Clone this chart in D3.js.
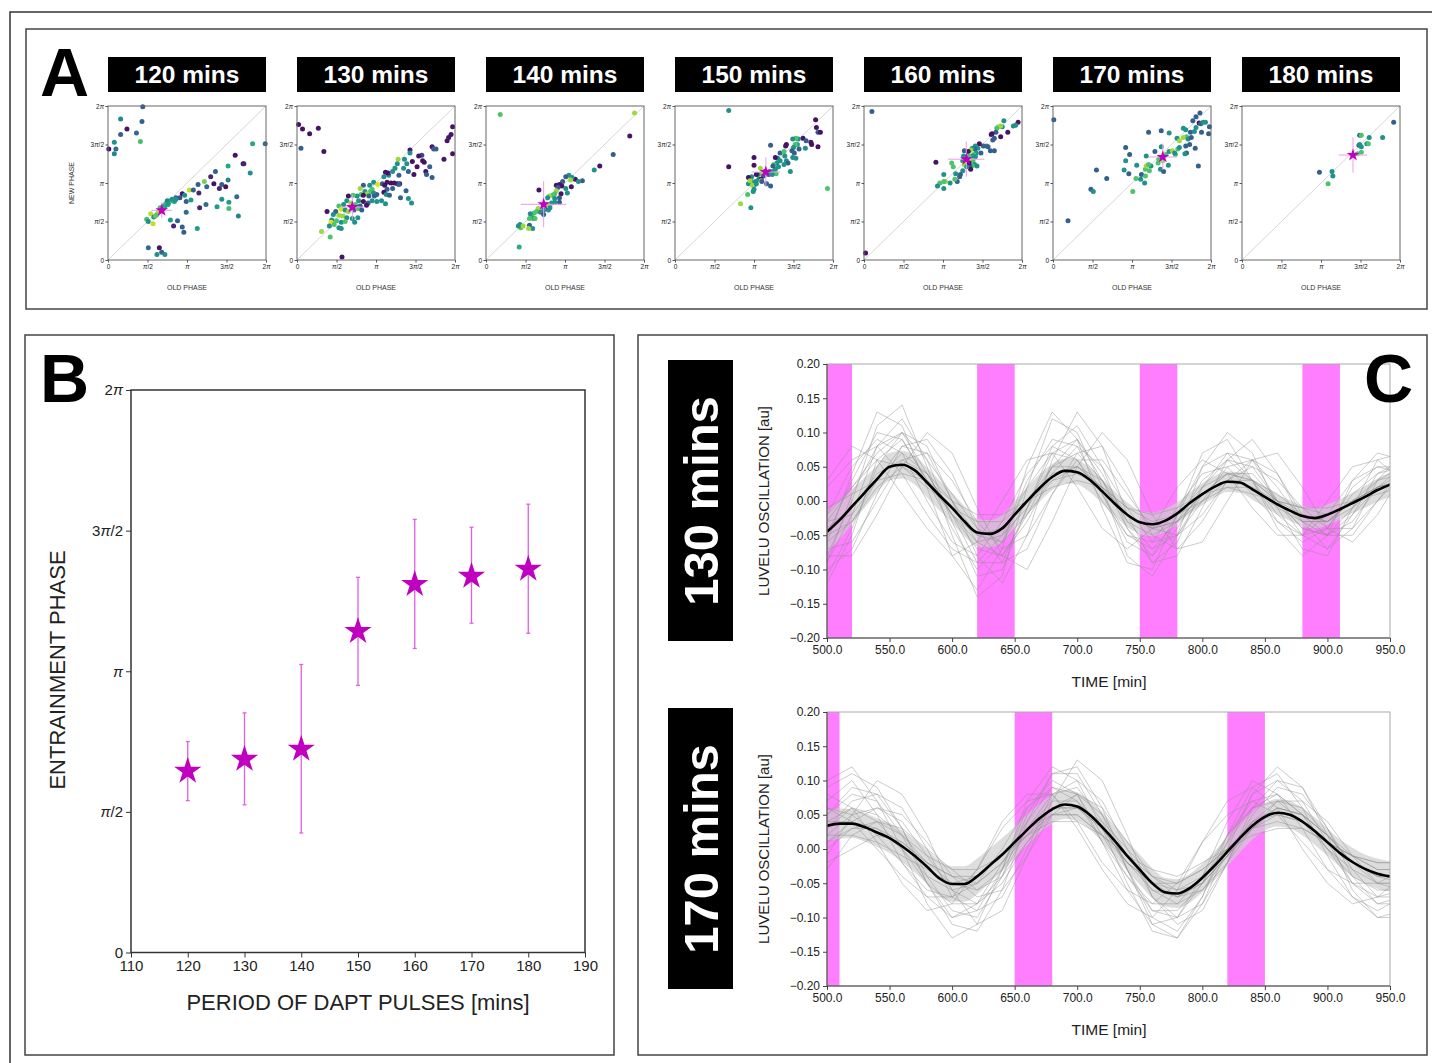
<!DOCTYPE html>
<html>
<head>
<meta charset="utf-8">
<script src="https://d3js.org/d3.v7.min.js"></script>
<style>
  body { margin: 0; background: #fff; }
  svg { font-family: "Liberation Sans", Arial, Helvetica, sans-serif; }
</style>
</head>
<body>
<div id="fig"></div>
<script>
// ---------------- data ----------------
var periods = [120, 130, 140, 150, 160, 170, 180];
var periodTitles = ["120 mins", "130 mins", "140 mins", "150 mins", "160 mins", "170 mins", "180 mins"];
var phaseTickValues = [0, 0.5, 1, 1.5, 2];          // units of pi
var phaseTickLabels = ["0", "π/2", "π", "3π/2", "2π"];
var periodTicks = [110, 120, 130, 140, 150, 160, 170, 180, 190];

// panel B: entrainment phase (units of pi) with error bar limits
var entrainMean = [0.645, 0.687, 0.723, 1.142, 1.309, 1.338, 1.363];
var entrainLow  = [0.54, 0.525, 0.425, 0.95, 1.081, 1.171, 1.135];
var entrainHigh = [0.75, 0.852, 1.024, 1.334, 1.54, 1.512, 1.594];
// panel A: mean old phase and its spread
var meanOldPhase = [0.68, 0.70, 0.73, 1.15, 1.295, 1.39, 1.405];
var oldPhaseErr  = [0.13, 0.15, 0.29, 0.18, 0.23, 0.18, 0.18];

// panel A scatter: [old phase, new phase, colour value]  (phases in units of pi)
var scatter120 = [
  [0.44,1.99,.3],[0.16,1.83,.45],[0.43,1.80,.3],[0.24,1.70,.05],[0.16,1.63,.3],[0.36,1.65,.35],[0.08,1.53,.5],
  [0.41,1.54,.7],[0.01,1.44,.05],[0.10,1.44,.35],[0.08,1.38,.45],[1.83,1.51,.6],[1.99,1.51,.35],[1.61,1.36,.05],
  [1.36,1.15,.3],[1.52,1.22,.6],[1.71,1.25,.05],[1.72,1.25,.1],[1.30,1.08,.1],[1.22,1.02,.8],[1.52,1.04,.45],
  [1.80,1.13,.5],[1.34,0.99,.05],[1.41,0.93,.1],[1.44,0.98,.3],[1.49,0.95,.05],[1.14,0.98,.3],[1.25,0.95,.35],
  [1.03,0.91,.9],[1.08,0.91,.3],[0.94,0.86,.05],[0.97,0.84,.5],[1.15,0.87,.1],[1.05,0.78,.55],[0.86,0.81,.3],
  [0.91,0.81,.25],[0.99,0.76,.3],[1.44,0.79,.5],[1.53,0.75,.55],[1.63,0.82,.35],[1.24,0.72,.35],[1.16,0.68,.1],
  [1.38,0.69,.55],[1.53,0.67,.7],[1.65,0.57,.45],[0.99,0.62,.35],[0.79,0.52,.55],[0.88,0.51,.3],[0.83,0.44,.1],
  [0.94,0.43,.3],[0.96,0.36,.3],[1.13,0.41,.55],
  [0.49,0.53,.7],[0.51,0.50,.5],[0.54,0.60,.9],[0.57,0.47,.9],[0.58,0.56,.5],[0.62,0.59,.7],[0.64,0.63,.85],
  [0.66,0.68,.7],[0.70,0.70,.5],[0.73,0.73,.7],[0.77,0.75,.5],[0.79,0.77,.7],[0.81,0.79,.5],[0.84,0.76,.55],
  [0.75,0.77,.45],[0.68,0.63,.75],[0.60,0.57,.75],[0.86,0.79,.5],[0.72,0.69,.6],[0.76,0.72,.55],
  [0.51,0.16,.35],[0.65,0.16,.05],[0.62,0.07,.5],[0.68,0.10,.3],[0.72,0.07,.5]
];
var scatter130 = [
  [0.02,1.76,.05],[0.07,1.70,.05],[0.16,1.64,.05],[0.27,1.71,.05],[0.05,1.45,.3],[0.34,1.41,.05],[1.97,1.73,.05],
  [1.95,1.63,.05],[1.92,1.59,.05],[1.90,1.55,.05],[1.97,1.38,.05],[1.86,1.31,.05],[1.71,1.47,.05],[1.73,1.44,.3],
  [1.76,1.44,.3],[1.58,1.36,.2],[1.54,1.35,.05],[1.43,1.43,.05],[1.43,1.39,.5],[1.28,1.31,.85],[1.36,1.31,.5],
  [1.46,1.28,.05],[1.39,1.25,.5],[1.27,1.25,.5],[1.59,1.29,.05],[1.52,1.21,.05],[1.61,1.27,.05],[1.68,1.21,.3],
  [1.63,1.15,.05],[1.35,1.19,.5],[1.41,1.15,.3],[1.48,1.11,.05],[1.64,1.11,.3],[1.71,1.07,.3],[1.24,1.19,.5],
  [1.21,1.15,.5],[1.16,1.10,.5],[1.12,1.14,.05],[1.15,1.13,.05],[1.10,1.08,.5],[1.29,1.10,.3],[1.14,1.01,.05],
  [1.19,1.00,.05],[1.23,1.00,.05],[1.27,0.99,.05],[1.30,0.99,.05],[1.08,0.99,.3],[1.11,0.97,.05],[1.14,0.92,.3],
  [1.21,0.93,.3],[1.29,0.98,.3],[1.38,0.90,.3],[1.10,0.88,.05],[1.13,0.85,.5],[1.17,0.84,.3],[1.31,0.81,.3],
  [1.41,0.80,.5],[1.45,0.74,.5],[1.12,0.73,.5],[1.07,0.77,.5],[1.01,0.85,.3],[0.97,1.01,.5],[1.02,0.98,.95],
  [0.92,0.97,.5],[0.95,0.92,.72],[0.84,0.97,.3],[0.80,0.93,.85],[0.86,0.89,.5],[0.93,0.89,.72],[0.97,0.87,.5],
  [0.89,0.86,.85],[0.81,0.85,.72],[0.84,0.84,.05],[0.91,0.83,.3],[0.98,0.83,.3],[0.76,0.83,.5],[0.71,0.84,.72],
  [0.65,0.83,.05],[0.78,0.77,.5],[0.84,0.76,.05],[0.90,0.74,.3],[0.95,0.77,.5],[1.01,0.76,.5],[0.63,0.77,.5],
  [0.68,0.74,.85],[0.74,0.72,.72],[0.80,0.70,.3],[0.88,0.71,.05],[0.59,0.72,.5],[0.53,0.70,.72],[0.56,0.66,.95],
  [0.61,0.65,.5],[0.65,0.63,.85],[0.72,0.65,.5],[0.77,0.67,.72],[0.82,0.65,.3],[0.49,0.63,.3],[0.38,0.63,.05],
  [0.46,0.59,.5],[0.53,0.58,.85],[0.58,0.57,.85],[0.63,0.55,.5],[0.70,0.54,.5],[0.77,0.55,.5],[0.44,0.52,.5],
  [0.50,0.51,.72],[0.56,0.49,.5],[0.61,0.50,.72],[0.43,0.49,.95],[0.47,0.46,.72],[0.41,0.44,.5],[0.53,0.42,.5],
  [0.56,0.41,.5],[0.73,0.49,.5],[0.31,0.37,.85],[0.42,0.30,.72],[0.57,0.04,.05]
];
var scatter140 = [
  [0.18,1.89,.72],[1.88,1.91,.85],[1.82,1.61,.05],[1.61,1.37,.3],[1.44,1.22,.05],[1.37,1.17,.5],[1.22,1.03,.3],
  [1.13,1.05,.05],[1.09,1.07,.5],[1.05,1.10,.5],[1.01,1.08,.3],[1.07,1.04,.85],[1.17,1.02,.5],[0.97,1.02,.3],
  [0.93,0.98,.05],[0.89,0.97,.05],[0.96,0.96,.05],[0.91,0.94,.3],[1.01,0.93,.5],[1.08,0.95,.05],[1.03,0.87,.5],
  [0.67,0.91,.05],[0.95,0.86,.05],[0.89,0.90,.85],[0.87,0.86,.72],[0.84,0.84,.72],[0.80,0.83,.85],[0.78,0.81,.5],
  [0.87,0.80,.5],[0.93,0.81,.3],[0.93,0.75,.3],[0.87,0.75,.5],[0.83,0.74,.5],[0.78,0.72,.85],[0.81,0.68,.5],
  [0.73,0.65,.5],[0.79,0.65,.5],[0.66,0.67,.85],[0.64,0.63,.72],[0.69,0.62,.5],[0.73,0.59,.3],[0.61,0.61,.72],
  [0.58,0.58,.72],[0.56,0.60,.5],[0.60,0.54,.5],[0.62,0.54,.72],[0.55,0.54,.72],[0.43,0.46,.5],[0.44,0.42,.72],
  [0.41,0.44,.5],[0.47,0.44,.85],[0.55,0.45,.3],[0.59,0.41,.5],[0.54,0.41,.85],[0.42,0.17,.62]
];
var scatter150 = [
  [0.68,1.94,.5],[0.68,1.21,.05],[1.93,0.93,.72],[1.78,1.82,.05],[1.79,1.72,.05],[1.81,1.66,.3],[1.84,1.66,.05],
  [1.81,1.47,.05],[1.62,1.58,.05],[1.72,1.53,.05],[1.73,1.50,.05],[1.66,1.55,.3],[1.65,1.45,.5],[1.56,1.57,.5],
  [1.53,1.58,.72],[1.49,1.57,.5],[1.55,1.50,.62],[1.52,1.50,.72],[1.50,1.46,.5],[1.57,1.44,.3],[1.48,1.42,.3],
  [1.51,1.39,.3],[1.53,1.32,.5],[1.49,1.33,.5],[1.41,1.50,.05],[1.40,1.48,.05],[1.21,1.49,.3],[1.33,1.39,.3],
  [1.38,1.41,.72],[1.30,1.32,.5],[1.27,1.33,.05],[1.39,1.35,.5],[1.41,1.29,.5],[1.43,1.26,.3],[1.46,1.15,.5],
  [1.38,1.24,.5],[1.33,1.29,.5],[1.29,1.26,.5],[1.25,1.24,.72],[1.31,1.21,.5],[1.27,1.18,.5],[1.24,1.22,.3],
  [1.20,1.15,.3],[1.24,1.15,.5],[1.28,1.12,.72],[1.23,1.11,.5],[1.18,1.11,.5],[1.14,1.15,.05],[1.08,1.19,.85],
  [1.09,1.12,.85],[1.12,1.09,.3],[1.05,1.11,.5],[1.03,1.11,.05],[1.00,1.33,.05],[1.00,1.23,.05],[1.06,1.05,.5],
  [1.09,1.05,.05],[0.97,1.08,.5],[0.93,1.07,.05],[0.97,1.02,.5],[1.02,1.02,.5],[0.93,0.99,.5],[0.95,1.03,.85],
  [1.09,1.03,.85],[1.01,0.98,.5],[0.98,0.97,.85],[1.03,0.99,.5],[1.10,1.02,.3],[1.16,0.99,.3],[1.21,0.96,.3],
  [1.00,0.92,.5],[0.99,0.89,.5],[0.92,0.85,.72],[0.83,0.73,.85],[0.96,0.68,.5]
];
var scatter160 = [
  [0.10,1.93,.3],[0.02,0.09,.05],[0.91,1.27,.05],[1.95,1.79,.05],[1.92,1.75,.5],[1.89,1.74,.5],[1.77,1.81,.5],
  [1.82,1.66,.05],[1.75,1.73,.5],[1.73,1.74,.85],[1.70,1.73,.85],[1.68,1.71,.72],[1.73,1.60,.05],[1.67,1.66,.3],
  [1.62,1.64,.05],[1.61,1.63,.05],[1.65,1.58,.3],[1.63,1.56,.3],[1.55,1.48,.5],[1.57,1.47,.3],[1.65,1.42,.3],
  [1.60,1.42,.3],[1.51,1.48,.3],[1.46,1.51,.05],[1.44,1.45,.5],[1.41,1.48,.5],[1.40,1.44,.3],[1.48,1.39,.3],
  [1.42,1.39,.5],[1.37,1.45,.5],[1.39,1.37,.72],[1.37,1.35,.5],[1.41,1.34,.5],[1.35,1.43,.85],[1.32,1.41,.05],
  [1.27,1.42,.3],[1.33,1.35,.72],[1.26,1.35,.5],[1.29,1.31,.72],[1.25,1.29,.5],[1.27,1.24,.85],[1.32,1.29,.85],
  [1.38,1.29,.72],[1.40,1.24,.5],[1.43,1.22,.5],[1.37,1.22,.72],[1.34,1.22,.3],[1.33,1.26,.05],[1.35,1.18,.05],
  [1.30,1.21,.5],[1.11,1.26,.72],[1.13,1.21,.72],[1.16,1.12,.5],[1.25,1.16,.5],[1.22,1.11,.3],[1.21,1.08,.3],
  [1.18,1.02,.3],[1.09,1.00,.5],[1.01,1.11,.5],[1.03,1.02,.85],[1.01,1.02,.72],[0.96,1.00,.72],[0.93,0.96,.5],
  [1.01,0.93,.5],[1.15,1.05,.72]
];
var scatter170 = [
  [0.01,1.82,.3],[0.19,0.51,.3],[0.48,0.92,.3],[0.51,0.89,.5],[0.55,1.17,.3],[0.68,1.06,.3],[1.01,0.89,.72],
  [0.92,1.46,.3],[0.97,1.37,.3],[0.92,1.29,.5],[0.96,1.12,.3],[0.90,1.17,.5],[1.05,1.06,.72],[1.11,1.05,.5],
  [1.12,1.11,.3],[1.06,1.23,.5],[1.16,1.00,.5],[1.17,1.09,.72],[1.17,1.18,.72],[1.18,1.22,.85],[1.22,1.16,.72],
  [1.24,1.22,.5],[1.21,1.24,.72],[1.18,1.35,.5],[1.29,1.41,.3],[1.21,1.66,.3],[1.37,1.68,.3],[1.47,1.65,.5],
  [1.37,1.47,.5],[1.34,1.31,.72],[1.33,1.26,.72],[1.36,1.18,.5],[1.40,1.15,.3],[1.46,1.23,.5],[1.39,1.29,.85],
  [1.43,1.37,.72],[1.47,1.41,.5],[1.51,1.42,.85],[1.55,1.37,.72],[1.54,1.39,.5],[1.58,1.44,.72],[1.60,1.46,.5],
  [1.57,1.58,.5],[1.60,1.55,.85],[1.65,1.71,.5],[1.68,1.69,.5],[1.69,1.60,.72],[1.65,1.59,.85],[1.71,1.57,.5],
  [1.75,1.59,.3],[1.74,1.66,.3],[1.77,1.81,.3],[1.81,1.86,.3],[1.86,1.91,.3],[1.85,1.78,.05],[1.87,1.77,.3],
  [1.90,1.79,.5],[1.93,1.79,.5],[1.98,1.73,.3],[1.97,1.64,.3],[1.88,1.66,.3],[1.81,1.72,.5],[1.79,1.67,.5],
  [1.68,1.48,.3],[1.69,1.39,.3],[1.67,1.38,.5],[1.80,1.45,.3],[1.84,1.22,.3],[1.73,1.50,.3]
];
var scatter180 = [
  [0.98,1.14,.3],[1.14,1.15,.5],[1.15,1.09,.5],[1.09,0.99,.72],[1.92,1.79,.3],[1.78,1.59,.5],[1.61,1.59,.5],
  [1.49,1.62,.3],[1.51,1.62,.72],[1.48,1.49,.3],[1.49,1.50,.5],[1.51,1.47,.5],[1.58,1.51,.5],[1.60,1.51,.72],
  [1.51,1.40,.72],[1.46,1.38,.72]
];

// panel C
var timeTicks = [500, 550, 600, 650, 700, 750, 800, 850, 900, 950];
var oscTicks = [0.20, 0.15, 0.10, 0.05, 0.00, -0.05, -0.10, -0.15, -0.20];
var meanTimes = [500,510,520,530,540,550,560,570,580,590,600,610,620,630,640,650,660,670,680,690,700,710,720,
  730,740,750,760,770,780,790,800,810,820,830,840,850,860,870,880,890,900,910,920,930,940,950];
var mean130 = [-0.045,-0.028,-0.008,0.012,0.032,0.05,0.053,0.045,0.027,0.008,-0.01,-0.03,-0.046,-0.048,-0.04,
  -0.02,0.0,0.019,0.035,0.044,0.042,0.031,0.014,-0.004,-0.02,-0.031,-0.034,-0.029,-0.018,-0.003,0.01,0.021,
  0.028,0.027,0.017,0.006,-0.005,-0.014,-0.022,-0.025,-0.02,-0.012,-0.003,0.006,0.016,0.024];
var sd130 = [0.03,0.028,0.025,0.022,0.02,0.02,0.02,0.021,0.022,0.022,0.022,0.022,0.02,0.02,0.02,0.02,0.02,0.02,
  0.019,0.018,0.018,0.018,0.018,0.018,0.018,0.017,0.017,0.017,0.016,0.016,0.016,0.016,0.015,0.015,0.015,0.015,
  0.015,0.015,0.015,0.015,0.015,0.015,0.015,0.016,0.017,0.018];
var mean170 = [0.034,0.037,0.037,0.032,0.024,0.016,0.004,-0.01,-0.026,-0.043,-0.051,-0.051,-0.04,-0.024,-0.008,
  0.01,0.028,0.045,0.058,0.065,0.062,0.05,0.032,0.012,-0.01,-0.03,-0.05,-0.063,-0.065,-0.057,-0.042,-0.024,
  -0.004,0.016,0.034,0.047,0.053,0.05,0.04,0.026,0.01,-0.006,-0.019,-0.029,-0.036,-0.04];
var sd170 = [0.022,0.022,0.021,0.021,0.021,0.022,0.023,0.024,0.025,0.026,0.026,0.026,0.026,0.025,0.024,0.023,
  0.022,0.021,0.021,0.021,0.021,0.021,0.022,0.022,0.022,0.022,0.022,0.021,0.021,0.021,0.021,0.021,0.021,0.021,
  0.02,0.02,0.02,0.02,0.02,0.02,0.02,0.02,0.021,0.021,0.022,0.022];

var traceTimes = [500,520,540,560,580,600,620,640,660,680,700,720,740,760,780,800,820,840,860,880,900,920,940,960];
var traces130 = [
  [-0.09,-0.02,0.08,0.12,0.06,-0.03,-0.11,-0.10,-0.01,0.08,0.11,0.05,-0.04,-0.09,-0.06,0.02,0.07,0.06,0.0,-0.05,-0.07,-0.02,0.04,0.06],
  [-0.02,0.05,0.09,0.07,0.0,-0.06,-0.08,-0.03,0.04,0.08,0.06,0.0,-0.05,-0.06,-0.01,0.04,0.05,0.01,-0.03,-0.05,-0.02,0.03,0.05,0.04],
  [-0.07,-0.06,0.0,0.06,0.07,0.03,-0.03,-0.07,-0.05,0.01,0.06,0.06,0.01,-0.04,-0.05,-0.02,0.03,0.05,0.03,-0.01,-0.04,-0.04,0.0,0.04],
  [-0.03,0.02,0.06,0.05,0.02,-0.01,-0.03,-0.03,0.0,0.03,0.04,0.02,-0.01,-0.03,-0.02,0.0,0.02,0.02,0.0,-0.01,-0.02,0.0,0.02,0.03],
  [-0.11,-0.04,0.05,0.10,0.08,0.0,-0.08,-0.12,-0.05,0.06,0.13,0.08,-0.02,-0.09,-0.08,-0.01,0.06,0.09,0.04,-0.03,-0.07,-0.04,0.03,0.07],
  [0.02,0.06,0.08,0.04,-0.02,-0.07,-0.09,-0.05,0.02,0.07,0.06,0.01,-0.05,-0.07,-0.03,0.03,0.06,0.03,-0.02,-0.05,-0.04,0.01,0.04,0.05],
  [-0.06,-0.03,0.03,0.07,0.04,0.0,-0.05,-0.06,-0.02,0.03,0.05,0.03,-0.02,-0.04,-0.03,0.01,0.03,0.02,-0.01,-0.03,-0.03,0.0,0.02,0.03],
  [-0.08,0.0,0.11,0.14,0.05,-0.05,-0.14,-0.11,0.02,0.12,0.10,0.02,-0.08,-0.11,-0.05,0.05,0.10,0.07,-0.01,-0.07,-0.08,-0.01,0.06,0.07],
  [-0.01,0.01,0.03,0.04,0.03,0.0,-0.02,-0.02,0.0,0.02,0.03,0.02,-0.01,-0.02,-0.01,0.01,0.02,0.01,0.0,-0.01,-0.01,0.0,0.01,0.02],
  [-0.10,-0.07,0.01,0.08,0.09,0.04,-0.04,-0.09,-0.07,0.01,0.07,0.08,0.02,-0.05,-0.07,-0.03,0.03,0.06,0.04,-0.02,-0.05,-0.05,0.0,0.05],
  [-0.05,0.03,0.10,0.09,0.03,-0.04,-0.10,-0.06,0.03,0.09,0.08,0.01,-0.06,-0.08,-0.02,0.05,0.07,0.03,-0.03,-0.06,-0.04,0.02,0.05,0.05],
  [-0.04,-0.01,0.04,0.06,0.04,-0.02,-0.06,-0.05,-0.01,0.05,0.07,0.03,-0.03,-0.05,-0.03,0.01,0.04,0.03,0.0,-0.03,-0.03,0.0,0.03,0.04],
  [-0.12,-0.05,0.06,0.09,0.03,-0.02,-0.07,-0.08,-0.02,0.05,0.09,0.04,-0.03,-0.07,-0.05,0.01,0.04,0.04,0.0,-0.04,-0.05,-0.02,0.02,0.04],
  [-0.02,0.02,0.07,0.10,0.06,0.01,-0.04,-0.06,0.0,0.05,0.05,0.02,-0.02,-0.04,-0.02,0.02,0.04,0.03,0.0,-0.02,-0.03,0.0,0.02,0.03],
  [-0.06,0.04,0.13,0.11,0.02,-0.08,-0.13,-0.07,0.05,0.13,0.09,-0.01,-0.09,-0.10,-0.02,0.07,0.09,0.03,-0.04,-0.08,-0.05,0.03,0.07,0.06],
  [-0.08,-0.08,-0.02,0.05,0.10,0.07,-0.01,-0.08,-0.10,-0.03,0.05,0.10,0.06,-0.02,-0.07,-0.06,0.0,0.06,0.07,0.02,-0.04,-0.06,-0.02,0.04],
  [0.03,0.08,0.06,0.01,-0.04,-0.08,-0.06,0.0,0.06,0.07,0.02,-0.04,-0.07,-0.04,0.02,0.06,0.04,-0.01,-0.05,-0.05,0.0,0.05,0.06,0.03],
  [-0.05,-0.03,0.02,0.05,0.03,-0.02,-0.05,-0.04,0.0,0.04,0.05,0.02,-0.02,-0.04,-0.03,0.0,0.03,0.03,0.01,-0.02,-0.03,-0.01,0.02,0.03],
  [-0.09,0.01,0.08,0.10,0.04,-0.02,-0.09,-0.09,-0.01,0.07,0.09,0.03,-0.04,-0.08,-0.04,0.02,0.06,0.05,0.0,-0.04,-0.05,-0.01,0.03,0.05],
  [-0.03,-0.02,0.03,0.08,0.07,0.0,-0.06,-0.08,-0.03,0.04,0.08,0.05,-0.01,-0.06,-0.05,0.0,0.05,0.06,0.02,-0.03,-0.05,-0.03,0.02,0.05]
];
var traces170 = [
  [0.05,0.09,0.08,0.03,-0.04,-0.09,-0.10,-0.04,0.05,0.11,0.11,0.05,-0.03,-0.10,-0.12,-0.07,0.01,0.08,0.10,0.07,0.01,-0.05,-0.08,-0.08],
  [0.0,0.03,0.04,0.02,-0.01,-0.03,-0.03,-0.01,0.02,0.04,0.04,0.02,-0.01,-0.03,-0.04,-0.02,0.0,0.02,0.03,0.03,0.01,-0.01,-0.02,-0.02],
  [0.08,0.06,0.01,-0.05,-0.09,-0.08,-0.03,0.04,0.08,0.08,0.03,-0.03,-0.08,-0.10,-0.06,0.01,0.07,0.09,0.06,0.0,-0.05,-0.08,-0.07,-0.04],
  [0.01,0.04,0.06,0.05,0.01,-0.04,-0.07,-0.06,-0.01,0.05,0.08,0.06,0.01,-0.04,-0.07,-0.06,-0.02,0.03,0.07,0.07,0.04,-0.01,-0.05,-0.06],
  [0.10,0.12,0.07,0.0,-0.08,-0.13,-0.11,-0.03,0.07,0.12,0.10,0.03,-0.05,-0.12,-0.13,-0.07,0.02,0.09,0.11,0.06,-0.01,-0.07,-0.10,-0.09],
  [0.02,0.02,0.01,-0.01,-0.03,-0.05,-0.04,-0.01,0.03,0.05,0.05,0.02,-0.01,-0.04,-0.05,-0.03,0.0,0.03,0.04,0.03,0.01,-0.01,-0.03,-0.03],
  [0.06,0.05,0.02,-0.02,-0.06,-0.07,-0.05,0.0,0.06,0.09,0.07,0.01,-0.04,-0.08,-0.08,-0.04,0.02,0.06,0.07,0.04,0.0,-0.03,-0.05,-0.05],
  [-0.01,0.05,0.10,0.08,0.02,-0.06,-0.11,-0.09,-0.01,0.07,0.13,0.10,0.02,-0.07,-0.11,-0.09,-0.02,0.06,0.10,0.09,0.03,-0.04,-0.08,-0.07],
  [0.04,0.04,0.03,0.0,-0.04,-0.06,-0.05,-0.02,0.03,0.06,0.06,0.03,-0.02,-0.05,-0.06,-0.04,0.0,0.04,0.05,0.04,0.01,-0.02,-0.04,-0.04],
  [0.07,0.10,0.05,-0.02,-0.07,-0.10,-0.08,-0.02,0.04,0.09,0.08,0.02,-0.04,-0.09,-0.10,-0.05,0.02,0.07,0.08,0.05,0.0,-0.05,-0.07,-0.06],
  [0.03,0.06,0.05,0.02,-0.02,-0.05,-0.06,-0.03,0.03,0.07,0.07,0.03,-0.02,-0.06,-0.07,-0.05,-0.01,0.04,0.06,0.05,0.02,-0.02,-0.04,-0.05],
  [-0.02,0.0,0.02,0.01,-0.02,-0.04,-0.04,-0.01,0.02,0.05,0.05,0.02,-0.02,-0.05,-0.05,-0.03,0.0,0.03,0.05,0.04,0.01,-0.01,-0.02,-0.02],
  [0.05,0.08,0.07,0.02,-0.05,-0.10,-0.09,-0.03,0.06,0.10,0.08,0.01,-0.06,-0.11,-0.10,-0.04,0.04,0.10,0.08,0.03,-0.03,-0.07,-0.09,-0.07],
  [0.01,0.03,0.03,0.01,-0.02,-0.04,-0.05,-0.02,0.02,0.06,0.06,0.03,-0.02,-0.05,-0.07,-0.05,-0.01,0.03,0.06,0.05,0.02,-0.02,-0.04,-0.04],
  [0.09,0.11,0.09,0.03,-0.05,-0.11,-0.12,-0.06,0.04,0.11,0.12,0.06,-0.03,-0.11,-0.13,-0.08,0.0,0.08,0.12,0.09,0.02,-0.06,-0.10,-0.10],
  [0.03,0.07,0.08,0.06,0.0,-0.07,-0.09,-0.07,0.0,0.08,0.10,0.07,0.0,-0.07,-0.10,-0.08,-0.02,0.05,0.09,0.08,0.03,-0.03,-0.07,-0.07],
  [0.06,0.04,0.0,-0.04,-0.07,-0.07,-0.03,0.03,0.07,0.08,0.04,-0.02,-0.06,-0.08,-0.05,0.01,0.05,0.07,0.05,0.01,-0.03,-0.05,-0.05,-0.03],
  [-0.03,0.02,0.04,0.03,0.0,-0.03,-0.06,-0.04,0.01,0.05,0.06,0.04,0.0,-0.04,-0.06,-0.05,-0.01,0.03,0.06,0.05,0.02,-0.01,-0.03,-0.03],
  [0.04,0.06,0.04,0.0,-0.05,-0.08,-0.08,-0.04,0.03,0.08,0.09,0.04,-0.03,-0.09,-0.09,-0.05,0.01,0.06,0.08,0.05,0.0,-0.04,-0.06,-0.06],
  [0.02,0.05,0.06,0.04,-0.01,-0.06,-0.08,-0.05,0.01,0.06,0.08,0.05,-0.01,-0.06,-0.08,-0.06,-0.01,0.04,0.07,0.06,0.02,-0.02,-0.05,-0.05]
];
var pulses130 = [[490, 520], [620, 650], [750, 780], [880, 910]];
var pulses170 = [[480, 510], [650, 680], [820, 850]];

// ---------------- drawing ----------------
var svg = d3.select("#fig").append("svg")
  .attr("width", 1432).attr("height", 1063);

// turn every "π" in a label into an italic tspan
function piLabel(sel) {
  sel.each(function() {
    var t = d3.select(this), s = t.text();
    t.text(null);
    s.split(/(π)/).forEach(function(part) {
      if (!part) return;
      var ts = t.append("tspan").text(part);
      if (part === "π") ts.style("font-style", "italic");
    });
  });
}

function styleAxis(g, fontSize, tickColor) {
  g.attr("font-family", null).attr("font-size", fontSize);
  g.select(".domain").remove();
  g.selectAll(".tick line").attr("stroke", tickColor);
  g.selectAll(".tick text").attr("fill", "#222");
}

// frames
svg.append("path").attr("d", "M10,1063 V12 H1432").attr("fill", "none").attr("stroke", "#333").attr("stroke-width", 1.5);
svg.append("rect").attr("x", 26).attr("y", 29).attr("width", 1401).attr("height", 280)
  .attr("fill", "none").attr("stroke", "#444").attr("stroke-width", 1.5);
svg.append("rect").attr("x", 25).attr("y", 335).attr("width", 589).attr("height", 720)
  .attr("fill", "none").attr("stroke", "#444").attr("stroke-width", 1.5);
svg.append("rect").attr("x", 638).attr("y", 335).attr("width", 789).attr("height", 720)
  .attr("fill", "none").attr("stroke", "#444").attr("stroke-width", 1.5);

function bigLetter(txt, x, y) {
  svg.append("text").attr("x", x).attr("y", y).text(txt)
    .attr("font-size", 68).attr("font-weight", "bold").attr("fill", "#000");
}

// ---- panel A ----
var aW = 158, aH = 154, aTop = 106;
var ax = d3.scaleLinear().domain([0, 2]).range([0, aW]);
var ay = d3.scaleLinear().domain([0, 2]).range([aH, 0]);
var scatterSets = [scatter120, scatter130, scatter140, scatter150, scatter160, scatter170, scatter180];
var star = d3.symbol().type(d3.symbolStar);

periods.forEach(function(p, i) {
  var left = 108 + i * 189;
  svg.append("rect").attr("x", left).attr("y", 57).attr("width", aW).attr("height", 35).attr("fill", "#000");
  svg.append("text").attr("x", left + aW / 2).attr("y", 83).attr("text-anchor", "middle")
    .attr("fill", "#fff").attr("font-size", 24.5).attr("font-weight", "bold").text(periodTitles[i]);

  var g = svg.append("g").attr("transform", "translate(" + left + "," + aTop + ")");
  g.append("line").attr("x1", ax(0)).attr("y1", ay(0)).attr("x2", ax(2)).attr("y2", ay(2))
    .attr("stroke", "#ccc").attr("stroke-width", 0.8);

  g.selectAll("circle").data(scatterSets[i]).join("circle")
    .attr("cx", function(d) { return ax(d[0]); })
    .attr("cy", function(d) { return ay(d[1]); })
    .attr("r", 2.5)
    .attr("fill", function(d) { return d3.interpolateViridis(d[2]); });

  // mean with spread
  var mx = meanOldPhase[i], my = entrainMean[i];
  var eb = g.append("g").attr("stroke", "#ee9cee").attr("stroke-width", 1);
  eb.append("line").attr("x1", ax(mx - oldPhaseErr[i])).attr("x2", ax(mx + oldPhaseErr[i]))
    .attr("y1", ay(my)).attr("y2", ay(my));
  eb.append("line").attr("x1", ax(mx)).attr("x2", ax(mx))
    .attr("y1", ay(entrainLow[i])).attr("y2", ay(entrainHigh[i]));
  g.append("path").attr("d", star.size(50)())
    .attr("transform", "translate(" + ax(mx) + "," + ay(my) + ")").attr("fill", "#bf00bf");

  g.append("rect").attr("width", aW).attr("height", aH).attr("fill", "none")
    .attr("stroke", "#666").attr("stroke-width", 1);

  var xa = g.append("g").attr("transform", "translate(0," + aH + ")")
    .call(d3.axisBottom(ax).tickValues(phaseTickValues)
      .tickFormat(function(d, k) { return phaseTickLabels[k]; }).tickSize(2.5).tickPadding(1.5));
  styleAxis(xa, 6.5, "#555");
  xa.selectAll(".tick text").call(piLabel);
  var ya = g.append("g")
    .call(d3.axisLeft(ay).tickValues(phaseTickValues)
      .tickFormat(function(d, k) { return phaseTickLabels[k]; }).tickSize(2.5).tickPadding(1.5));
  styleAxis(ya, 6.5, "#555");
  ya.selectAll(".tick text").call(piLabel);

  g.append("text").attr("x", aW / 2).attr("y", aH + 30).attr("text-anchor", "middle")
    .attr("font-size", 7).attr("fill", "#333").text("OLD PHASE");
  if (i === 0) {
    g.append("text").attr("transform", "translate(-34," + (aH / 2) + ") rotate(-90)")
      .attr("text-anchor", "middle").attr("font-size", 7).attr("fill", "#333").text("NEW PHASE");
  }
});
bigLetter("A", 40, 96);

// ---- panel B ----
var bx = d3.scaleLinear().domain([110, 190]).range([131, 585]);
var by = d3.scaleLinear().domain([0, 2]).range([952.5, 390]);
var gB = svg.append("g");
gB.append("rect").attr("x", 131).attr("y", 390).attr("width", 454).attr("height", 562.5)
  .attr("fill", "none").attr("stroke", "#333").attr("stroke-width", 1.5);
var bxa = gB.append("g").attr("transform", "translate(0,952.5)")
  .call(d3.axisBottom(bx).tickValues(periodTicks).tickSize(5).tickPadding(3));
styleAxis(bxa, 15, "#333");
var bya = gB.append("g").attr("transform", "translate(131,0)")
  .call(d3.axisLeft(by).tickValues(phaseTickValues)
    .tickFormat(function(d, k) { return phaseTickLabels[k]; }).tickSize(5).tickPadding(3));
styleAxis(bya, 15, "#333");
bya.selectAll(".tick text").call(piLabel);

var bErr = gB.append("g").attr("stroke", "#e060e0").attr("stroke-width", 1.3);
periods.forEach(function(p, i) {
  bErr.append("line").attr("x1", bx(p)).attr("x2", bx(p)).attr("y1", by(entrainLow[i])).attr("y2", by(entrainHigh[i]));
  [entrainLow[i], entrainHigh[i]].forEach(function(v) {
    bErr.append("line").attr("x1", bx(p) - 2).attr("x2", bx(p) + 2).attr("y1", by(v)).attr("y2", by(v));
  });
});
gB.selectAll("path.bstar").data(periods).join("path").attr("class", "bstar")
  .attr("d", star.size(230)())
  .attr("transform", function(p, i) { return "translate(" + bx(p) + "," + by(entrainMean[i]) + ")"; })
  .attr("fill", "#bf00bf");

gB.append("text").attr("x", 358).attr("y", 1010).attr("text-anchor", "middle")
  .attr("font-size", 22).attr("fill", "#222").text("PERIOD OF DAPT PULSES [mins]");
gB.append("text").attr("transform", "translate(65,670) rotate(-90)").attr("text-anchor", "middle")
  .attr("font-size", 22).attr("fill", "#222").text("ENTRAINMENT PHASE");
bigLetter("B", 40, 402);

// ---- panel C ----
var cx = d3.scaleLinear().domain([500, 950]).range([827, 1390]);
function oscPanel(top, label, pulses, meanVals, sdVals, traces, clipId) {
  var cy = d3.scaleLinear().domain([-0.2, 0.2]).range([top + 274, top]);
  var g = svg.append("g");
  g.append("clipPath").attr("id", clipId).append("rect")
    .attr("x", 827).attr("y", top).attr("width", 563).attr("height", 274);
  var plot = g.append("g").attr("clip-path", "url(#" + clipId + ")");

  plot.selectAll("rect.pulse").data(pulses).join("rect").attr("class", "pulse")
    .attr("x", function(d) { return cx(Math.max(d[0], 500)); })
    .attr("width", function(d) { return cx(d[1]) - cx(Math.max(d[0], 500)); })
    .attr("y", top).attr("height", 274).attr("fill", "#ff7dff");

  plot.append("path").datum(meanTimes)
    .attr("d", d3.area().x(function(t) { return cx(t); })
      .y0(function(t, k) { return cy(meanVals[k] - sdVals[k]); })
      .y1(function(t, k) { return cy(meanVals[k] + sdVals[k]); }).curve(d3.curveMonotoneX))
    .attr("fill", "#cfcfcf").attr("opacity", 0.7);

  var traceLine = d3.line().x(function(v, k) { return cx(traceTimes[k]); }).y(function(v) { return cy(v); });
  plot.selectAll("path.trace").data(traces).join("path").attr("class", "trace")
    .attr("d", traceLine).attr("fill", "none").attr("stroke", "#8c8c8c")
    .attr("stroke-width", 0.6).attr("stroke-opacity", 0.75);

  plot.append("path").datum(meanVals)
    .attr("d", d3.line().x(function(v, k) { return cx(meanTimes[k]); }).y(function(v) { return cy(v); })
      .curve(d3.curveMonotoneX))
    .attr("fill", "none").attr("stroke", "#000").attr("stroke-width", 2.6);

  g.append("rect").attr("x", 827).attr("y", top).attr("width", 563).attr("height", 274)
    .attr("fill", "none").attr("stroke", "#aaa").attr("stroke-width", 1);
  var xa = g.append("g").attr("transform", "translate(0," + (top + 274) + ")")
    .call(d3.axisBottom(cx).tickValues(timeTicks).tickFormat(d3.format(".1f")).tickSize(4).tickPadding(3));
  styleAxis(xa, 12, "#444");
  xa.append("line").attr("x1", 827).attr("x2", 1390).attr("stroke", "#444");
  var ya = g.append("g").attr("transform", "translate(827,0)")
    .call(d3.axisLeft(cy).tickValues(oscTicks).tickFormat(d3.format(".2f")).tickSize(4).tickPadding(3));
  styleAxis(ya, 12, "#444");
  ya.append("line").attr("y1", top).attr("y2", top + 274).attr("stroke", "#444");

  g.append("text").attr("x", 1109).attr("y", top + 323).attr("text-anchor", "middle")
    .attr("font-size", 15.5).attr("fill", "#222").text("TIME [min]");
  g.append("text").attr("transform", "translate(769," + (top + 137) + ") rotate(-90)")
    .attr("text-anchor", "middle").attr("font-size", 15).attr("fill", "#222").text("LUVELU OSCILLATION [au]");

  g.append("rect").attr("x", 668).attr("y", top - 4).attr("width", 65).attr("height", 281).attr("fill", "#000");
  g.append("text").attr("transform", "translate(718," + (top + 137) + ") rotate(-90)")
    .attr("text-anchor", "middle").attr("font-size", 49).attr("font-weight", "bold")
    .attr("fill", "#fff").text(label);
}
oscPanel(364, "130 mins", pulses130, mean130, sd130, traces130, "clipTop");
oscPanel(712, "170 mins", pulses170, mean170, sd170, traces170, "clipBot");
bigLetter("C", 1364, 402);
</script>
</body>
</html>
